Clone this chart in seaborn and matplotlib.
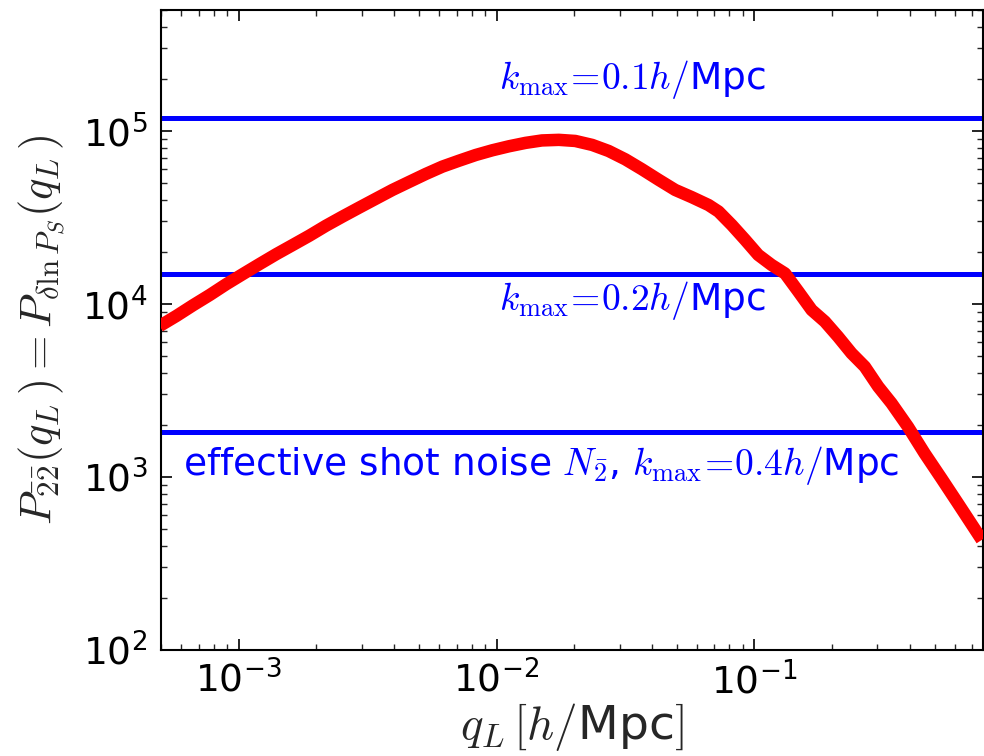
import numpy as np
import pandas as pd
import matplotlib
matplotlib.use("Agg")
import matplotlib.pyplot as plt
import seaborn as sns

# ---- data ----
q_L = [4.94e-4, 5.74e-4, 6.65e-4, 7.73e-4, 8.95e-4, 1.04e-3, 1.205e-3, 1.40e-3,
       1.62e-3, 1.88e-3, 2.18e-3, 2.53e-3, 2.94e-3, 3.41e-3, 3.95e-3, 4.58e-3,
       5.32e-3, 6.17e-3, 7.16e-3, 8.31e-3, 9.64e-3, 1.117e-2, 1.297e-2, 1.50e-2,
       1.745e-2, 2.02e-2, 2.35e-2, 2.72e-2, 3.16e-2, 3.66e-2, 4.26e-2, 4.93e-2,
       5.72e-2, 6.64e-2, 7.26e-2, 8.17e-2, 9.20e-2, 0.1035, 0.1166, 0.1315,
       0.148, 0.1667, 0.1876, 0.211, 0.238, 0.268, 0.302, 0.340, 0.394, 0.457,
       0.531, 0.615, 0.762]
P_22 = [7460, 8530, 9820, 11270, 13000, 14900, 17000, 19400,
        21900, 24800, 28300, 32000, 36100, 40600, 45600, 50700,
        56400, 62200, 67300, 72600, 77300, 81500, 85300, 88100,
        88800, 87500, 83000, 76600, 68500, 60100, 52100, 45600,
        41400, 37300, 34200, 28600, 23500, 19200, 16800, 15000,
        11800, 9230, 7910, 6470, 5190, 4340, 3330, 2670, 1950, 1370,
        982, 705, 433]

noise_levels = [1.19e5, 1.49e4, 1.82e3]
noise_labels = [r"$k_{\rm max}\!=\!0.1h/$Mpc",
                r"$k_{\rm max}\!=\!0.2h/$Mpc",
                r"effective shot noise $N_{\bar{2}}$, $k_{\rm max}\!=\!0.4h/$Mpc"]
label_x = [0.0102, 0.0102, 6.1e-4]
label_y = [1.97e5, 1.05e4, 1.17e3]

df = pd.DataFrame({"q": q_L, "P": P_22})

sns.set_style("ticks")
plt.rcParams.update({
    "mathtext.fontset": "cm",
    "font.family": ["DejaVu Sans"],
    "axes.unicode_minus": False,
    "xtick.direction": "in",
    "ytick.direction": "in",
    "xtick.top": True,
    "ytick.right": True,
    "axes.edgecolor": "black",
    "axes.linewidth": 1.5,
})

fig = plt.figure(figsize=(9.84, 7.56), dpi=100)
ax = fig.add_axes([0.1636, 0.1402, 0.8354, 0.8466])

for lvl in noise_levels:
    ax.axhline(lvl, color="#0000ff", lw=3.6, zorder=2)

sns.lineplot(data=df, x="q", y="P", ax=ax, color="#ff0000", lw=9,
             sort=False, estimator=None, zorder=3,
             solid_joinstyle="round", solid_capstyle="butt")

ax.set_xscale("log")
ax.set_yscale("log")
ax.set_xlim(5e-4, 0.77)
ax.set_ylim(1e2, 5e5)

for tx, ty, lab in zip(label_x, label_y, noise_labels):
    ax.text(tx, ty, lab, color="#0000ff", fontsize=27, ha="left", va="center")

ax.tick_params(which="major", length=8, width=1.2, labelsize=27, pad=10,
               colors="black")
ax.tick_params(which="minor", length=4, width=1.0)
ax.tick_params(axis="x", which="major", pad=8)

ax.set_xlabel(r"$q_L\,[h/$Mpc$]$", fontsize=34, labelpad=0)
ax.set_ylabel(r"$P_{\bar{2}\bar{2}}(q_L\,)=P_{\delta\ln P_S}(q_L\,)$",
              fontsize=32, labelpad=10)

fig.savefig("out.png", dpi=100)
